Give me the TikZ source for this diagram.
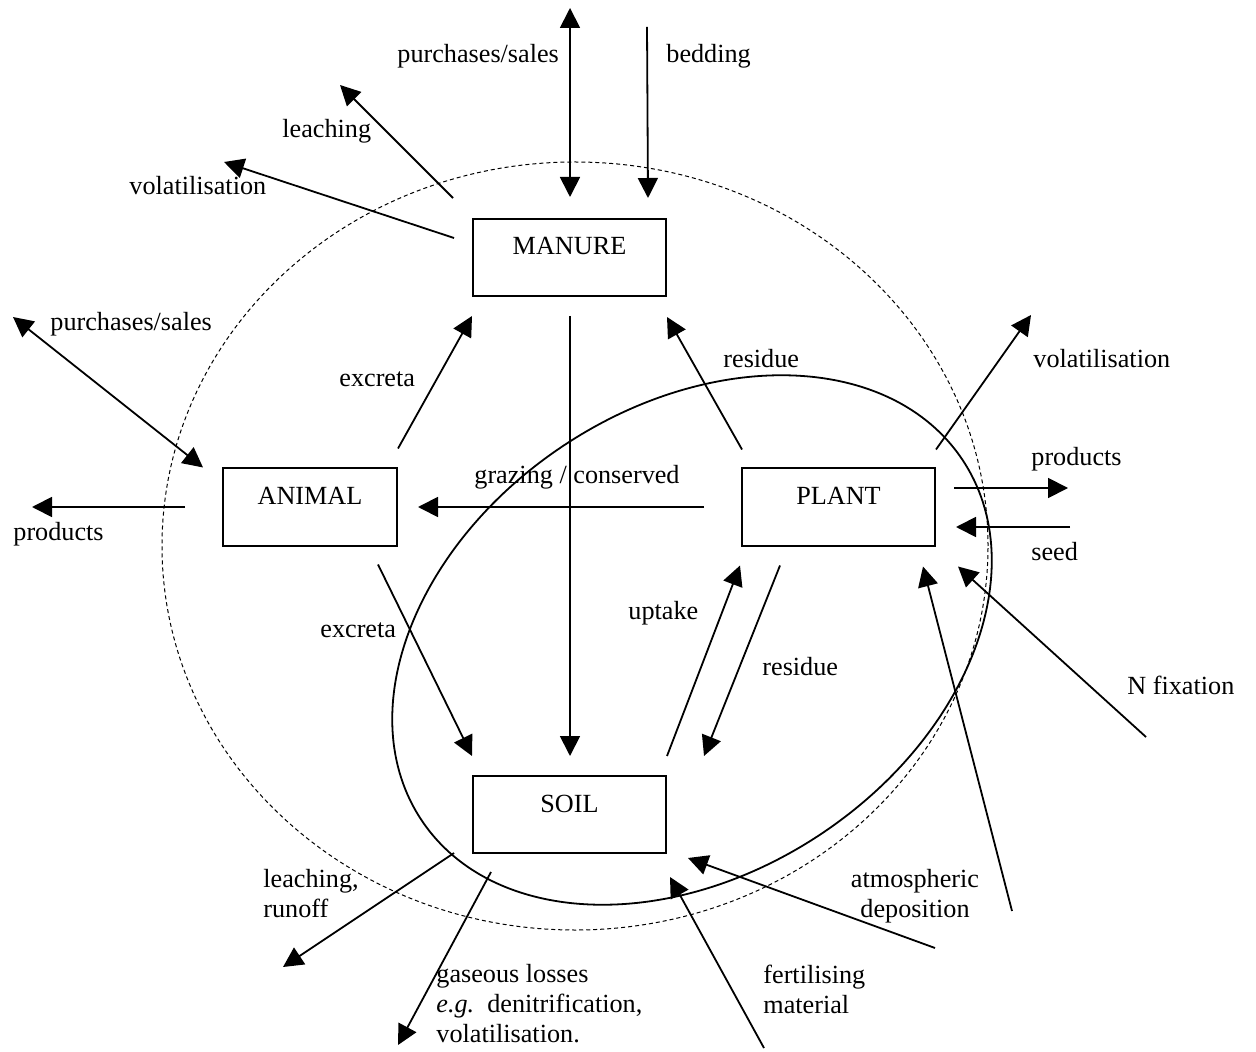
\documentclass[tikz,border=0pt]{standalone}
\usepackage{fontspec}
\setmainfont{Liberation Serif}
\usetikzlibrary{arrows.meta,positioning}
\tikzset{
  pool/.style     = {draw, line width=1pt, inner sep=0pt, minimum width=96.5pt,
                     text height=18pt, text depth=20.5pt},
  flow/.style     = {-{Triangle[length=10pt,width=10pt]}, line width=0.9pt},
  flowboth/.style = {{Triangle[length=10pt,width=10pt]}-{Triangle[length=10pt,width=10pt]},
                     line width=0.9pt},
  farm/.style     = {line width=0.5pt, dash pattern=on 2pt off 1.5pt},
  lbl/.style      = {inner sep=0pt, anchor=base west},
  lbls/.style     = {inner sep=0pt, anchor=north west, align=left},
}

\begin{document}
\begin{tikzpicture}[x=0.5pt,y=-0.5pt,font=\fontsize{13.1}{15}\selectfont]
  \useasboundingbox (0,0) rectangle (1256,1052);
  % farm boundary and soil--plant system
  \draw[farm] (575,546) ellipse [x radius=206.5pt, y radius=192pt];
  \draw[line width=0.9pt, rotate around={33.7:(692,640)}] (692,640)
    ellipse [x radius=162.5pt, y radius=116.5pt];

  % pools
  \node[pool] (manure) at (569.5,257.5) {MANURE};
  \node[pool, minimum width=87pt] (animal) at (310,507) {ANIMAL};
  \node[pool] (plant) at (838.5,507) {PLANT};
  \node[pool] (soil) at (569.5,814.5) {SOIL};

  % free ends outside the farm
  \coordinate (buyM) at (570,8);
  \coordinate (bedIn) at (647,27);
  \coordinate (leachM) at (340,85);
  \coordinate (volM) at (224,162);
  \coordinate (buyA) at (13,317);
  \coordinate (prodA) at (32,507);
  \coordinate (volP) at (1031,315);
  \coordinate (prodP) at (1068,488);
  \coordinate (seedIn) at (1070,527);
  \coordinate (fixIn) at (1146,737);
  \coordinate (depP) at (1012,911);
  \coordinate (depS) at (935,948);
  \coordinate (fertIn) at (764,1048);
  \coordinate (leachS) at (283,967);
  \coordinate (gasS) at (398,1045);

  % manure
  \draw[flowboth] (buyM) -- ([shift={(0.5,-21)}]manure.north);
  \draw[flow] (bedIn) -- ([shift={(-19,-20)}]manure.north east);
  \draw[flow] ([shift={(-19,-20)}]manure.north west) -- (leachM);
  \draw[flow] ([shift={(-18,-19.5)}]manure.west) -- (volM);
  \draw[flow] ([shift={(0.5,19)}]manure.south) -- ([shift={(0.5,-19)}]soil.north);
  % animal
  \draw[flowboth] (buyA) -- ([shift={(-19,0)}]animal.north west);
  \draw[flow] ([shift={(-37,0)}]animal.west) -- (prodA);
  \draw[flow] ([shift={(0,-19)}]animal.north east) -- ([shift={(0,19)}]manure.south west);
  \draw[flow] ([shift={(-20,18)}]animal.south east) -- ([shift={(0,-19)}]soil.north west);
  % plant
  \draw[flow] ([shift={(1,-18)}]plant.north west) -- ([shift={(0,20)}]manure.south east);
  \draw[flow] ([shift={(-37,0)}]plant.west) -- ([shift={(20,0)}]animal.east);
  \draw[flow] ([shift={(39,19)}]plant.south west) -- ([shift={(37,-19)}]soil.north east);
  \draw[flow] ([shift={(0,-18)}]plant.north east) -- (volP);
  \draw[flow] ([shift={(18,-19)}]plant.east) -- (prodP);
  \draw[flow] (seedIn) -- ([shift={(20,20)}]plant.east);
  \draw[flow] (fixIn) -- ([shift={(22,20)}]plant.south east);
  \draw[flow] (depP) -- ([shift={(-13,20)}]plant.south east);
  % soil
  \draw[flow] ([shift={(0,-19)}]soil.north east) -- ([shift={(-1,19)}]plant.south west);
  \draw[flow] (depS) -- ([shift={(21,4)}]soil.south east);
  \draw[flow] (fertIn) -- ([shift={(3,23)}]soil.south east);
  \draw[flow] ([shift={(-18,-1)}]soil.south west) -- (leachS);
  \draw[flow] ([shift={(19,18)}]soil.south west) -- (gasS);

  % labels
  \node[lbl] (tBuyM) at (397,63) {purchases/sales};
  \node[lbl] (tBed) at (666,63) {bedding};
  \node[lbl] (tLeachM) at (282,138) {leaching};
  \node[lbl] (tVolM) at (129,195) {volatilisation};
  \node[lbl] (tBuyA) at (50,331) {purchases/sales};
  \node[lbl] (tProdA) at (13,540) {products};
  \node[lbl] (tExUp) at (339,387) {excreta};
  \node[lbl] (tResUp) at (723,368) {residue};
  \node[lbl] (tGraze) at (474,484) {grazing / conserved};
  \node[lbl] (tVolP) at (1033,368) {volatilisation};
  \node[lbl] (tProdP) at (1031,466) {products};
  \node[lbl] (tSeed) at (1031,560) {seed};
  \node[lbl] (tExDn) at (320,637) {excreta};
  \node[lbl] (tUp) at (628,619) {uptake};
  \node[lbl] (tResDn) at (762,675) {residue};
  \node[lbl] (tFix) at (1127,694) {N fixation};
  \node[lbls] (tLeachS) at (263,869) {leaching,\\runoff};
  \node[lbls] (tGas) at (436,964) {gaseous losses\\\textit{e.g.}\ \ denitrification,\\volatilisation.};
  \node[lbls] (tFert) at (763,965) {fertilising\\material};
  \node[lbls, anchor=north, align=center] (tDep) at (915,869) {atmospheric\\deposition};
\end{tikzpicture}
\end{document}
